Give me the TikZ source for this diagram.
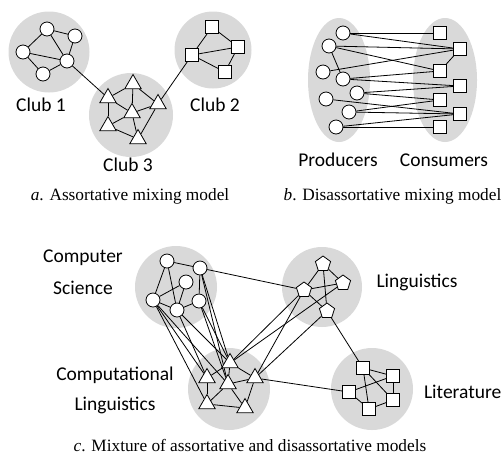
\documentclass[tikz,border=0pt]{standalone}
\usepackage{fontspec}
\setmainfont{Liberation Serif}
\newfontfamily\calib{Carlito}
\usetikzlibrary{shapes.geometric}
\pgfdeclarelayer{bgl}
\pgfdeclarelayer{edgel}
\pgfsetlayers{bgl,edgel,main}
\definecolor{clubgray}{HTML}{D9D9D9}
\begin{document}
\begin{tikzpicture}[x=1pt,y=-1pt,
  cn/.style={circle,draw,fill=white,minimum size=14pt,inner sep=0pt,line width=0.8pt},
  sq/.style={rectangle,draw,fill=white,minimum size=13pt,inner sep=0pt,line width=0.8pt},
  tri/.style={regular polygon,regular polygon sides=3,draw,fill=white,minimum size=19pt,inner sep=0pt,line width=0.8pt},
  pent/.style={regular polygon,regular polygon sides=5,draw,fill=white,minimum size=16pt,inner sep=0pt,line width=0.8pt},
  grp/.style={circle,fill=clubgray,inner sep=0pt},
  elp/.style={ellipse,fill=clubgray,inner sep=0pt},
  lbl/.style={font=\calib\fontsize{19.5}{22}\selectfont,inner sep=0pt},
  captxt/.style={font=\fontsize{17.3}{20}\selectfont,inner sep=0pt},
  ln/.style={line width=0.8pt}
]
\useasboundingbox (0,0) rectangle (502,456);

% ---------- background groups ----------
\begin{pgfonlayer}{bgl}
\node[grp,minimum size=81pt] (g-club1) at (49,52) {};
\node[grp,minimum size=84pt] (g-club3) at (131,115) {};
\node[grp,minimum size=77pt] (g-club2) at (213,50) {};
\node[elp,minimum width=62pt,minimum height=124pt] (g-prod) at (339,80) {};
\node[elp,minimum width=64pt,minimum height=124pt] (g-cons) at (445,80) {};
\node[grp,minimum size=82pt] (g-cs) at (176,287) {};
\node[grp,minimum size=80pt] (g-ling) at (322,287) {};
\node[grp,minimum size=82pt] (g-cl) at (229,389) {};
\node[grp,minimum size=82pt] (g-lit) at (372,389) {};
\end{pgfonlayer}

% ---------- panel a ----------
\node[cn] (a1) at (47,29) {};
\node[cn] (a2) at (75,36) {};
\node[cn] (a3) at (23,52) {};
\node[cn] (a4) at (67,61) {};
\node[cn] (a5) at (43,74) {};
\node[tri] (t1) at (108,98) {};
\node[tri] (t2) at (133,84) {};
\node[tri] (t3) at (158,104) {};
\node[tri] (t4) at (132,113) {};
\node[tri] (t5) at (108,126) {};
\node[tri] (t6) at (138,139) {};
\node[sq] (s1) at (212,27) {};
\node[sq] (s2) at (238,47) {};
\node[sq] (s3) at (192,55) {};
\node[sq] (s4) at (225,72) {};

% ---------- panel b ----------
\node[cn] (p1) at (343,33) {};
\node[cn] (p2) at (329,46) {};
\node[cn] (p3) at (323,72) {};
\node[cn] (p4) at (343,79) {};
\node[cn] (p5) at (357,93) {};
\node[cn] (p6) at (326,99) {};
\node[cn] (p7) at (349,112) {};
\node[cn] (p8) at (336,127) {};
\node[sq] (c1) at (440,33) {};
\node[sq] (c2) at (460,49) {};
\node[sq] (c3) at (440,71) {};
\node[sq] (c4) at (460,86) {};
\node[sq] (c5) at (440,100) {};
\node[sq] (c6) at (460,114) {};
\node[sq] (c7) at (440,127) {};

% ---------- panel c ----------
\node[cn] (k1) at (167,261) {};
\node[cn] (k2) at (200,268) {};
\node[cn] (k3) at (186,282) {};
\node[cn] (k4) at (153,300) {};
\node[cn] (k5) at (177,310) {};
\node[cn] (k6) at (199,301) {};
\node[tri] (l1) at (230,363) {};
\node[tri] (l2) at (207,378) {};
\node[tri] (l3) at (228,384) {};
\node[tri] (l4) at (255,378) {};
\node[tri] (l5) at (207,404) {};
\node[tri] (l6) at (245,408) {};
\node[pent] (g1) at (323,264) {};
\node[pent] (g2) at (304,290) {};
\node[pent] (g3) at (343,283) {};
\node[pent] (g4) at (327,311) {};
\node[sq] (q1) at (363,368) {};
\node[sq] (q2) at (393,376) {};
\node[sq] (q3) at (349,392) {};
\node[sq] (q4) at (393,400) {};
\node[sq] (q5) at (369,409) {};

% ---------- edges ----------
\begin{pgfonlayer}{edgel}
\foreach \u/\v in {a1/a2,a1/a3,a1/a4,a2/a4,a3/a4,a3/a5,a5/a4,a4/t1,
  t1/t2,t1/t4,t1/t5,t2/t4,t2/t3,t4/t3,t4/t5,t4/t6,t5/t6,t3/t6,t3/s3,
  s3/s1,s1/s2,s3/s2,s3/s4,s4/s2,
  p1/c1,p1/c2,p2/c2,p2/c3,p3/c2,p2/p4,c2/c3,p4/c3,p4/c4,p5/c4,p5/c5,
  p6/c6,p7/c5,p7/c6,p8/c6,p8/c7,
  k1/k2,k1/k4,k1/k5,k2/k6,k3/k4,k3/k5,k4/k5,k5/k6,k2/g2,
  k4/l2,k4/l5,k4/l3,k5/l1,k5/l2,k2/l1,k2/l3,k6/l1,k6/l3,
  l1/l2,l1/l3,l1/l4,l2/l5,l3/l4,l3/l5,l3/l6,l5/l6,l4/l6,
  g1/g2,g1/g3,g1/g4,g2/g3,g2/g4,g2/l1,g3/l1,g2/l4,g4/l4,g4/q1,
  q1/q2,q1/q5,q1/q4,q3/q2,q3/q5,q5/q4,q2/q4,l4/q3}
  {\draw[ln] (\u) -- (\v);}
\end{pgfonlayer}

% ---------- labels ----------
\node[lbl] (tclub1) at (41,105) {Club 1};
\node[lbl] (tclub2) at (215,105) {Club 2};
\node[lbl] (tclub3) at (128,165) {Club 3};
\node[lbl] (tprod) at (338,160) {Producers};
\node[lbl] (tcons) at (444,160) {Consumers};
\node[lbl] (tcomp) at (83,258) {Computer};
\node[lbl] (tsci) at (83,288) {Science};
\node[lbl] (tling) at (417,282) {Linguistics};
\node[lbl] (tcompl) at (115,375) {Computational};
\node[lbl] (tlingl) at (115,405) {Linguistics};
\node[lbl,anchor=east] (tlit) at (501.5,392) {Literature};

\node[captxt] (capa) at (130,196) {\textit{a}. Assortative mixing model};
\node[captxt,anchor=east] (capb) at (501.5,196) {\textit{b}. Disassortative mixing model};
\node[captxt] (capc) at (250,446) {\textit{c}. Mixture of assortative and disassortative models};
\end{tikzpicture}
\end{document}
